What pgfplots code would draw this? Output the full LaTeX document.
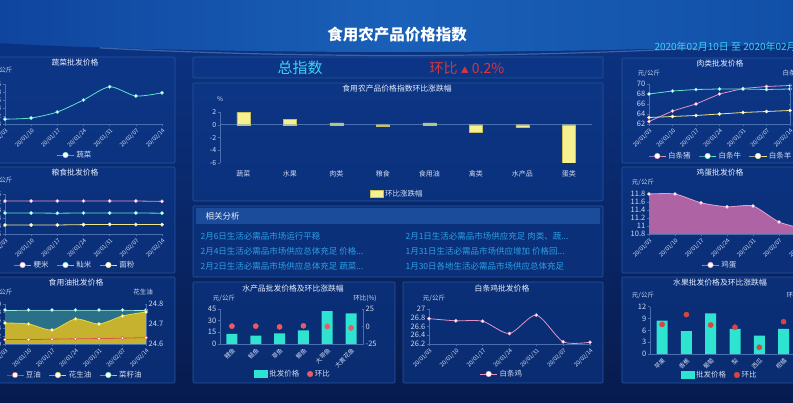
\documentclass[border=0pt]{standalone}
\usepackage{fontspec}
\setmainfont{Noto Sans CJK SC}
\usepackage{pgfplots}
\pgfplotsset{compat=1.18}

\definecolor{bgtop}{HTML}{0C3587}
\definecolor{bgbot}{HTML}{071B4E}
\definecolor{hdrL}{HTML}{0F459E}
\definecolor{hdrM}{HTML}{1A60B8}
\definecolor{hdrR}{HTML}{1250A8}
\definecolor{pfill}{HTML}{0D3A8C}
\definecolor{pbord}{HTML}{25569F}
\definecolor{axc}{HTML}{4A6FB0}
\definecolor{tkc}{HTML}{D0DAF2}
\definecolor{ttl}{HTML}{E8EEFF}
\definecolor{cyanT}{HTML}{3CD3F5}
\definecolor{linkc}{HTML}{2C9FE6}
\definecolor{mint}{HTML}{5FE3CF}
\definecolor{pinkL}{HTML}{E592C4}
\definecolor{yelL}{HTML}{EFE68A}
\definecolor{barY}{HTML}{F6F18E}
\definecolor{barYd}{HTML}{C9BF5A}
\definecolor{barC}{HTML}{2EE3CF}
\definecolor{dotR}{HTML}{D9443F}
\definecolor{dotP}{HTML}{E85A68}
\definecolor{eggF}{HTML}{AE64A4}
\definecolor{eggL}{HTML}{E8A0D0}
\definecolor{oilT}{HTML}{2A7088}
\definecolor{oilY}{HTML}{C6B22E}
\definecolor{oilYL}{HTML}{E8D83A}
\definecolor{redL}{HTML}{E0504A}
\definecolor{hbar}{HTML}{1B4C9B}
\definecolor{redT}{HTML}{D9353F}

\pgfplotsset{
  db/.style={
    scale only axis, anchor=south west,
    axis x line*=bottom, axis y line*=left,
    tick style={draw=axc, line width=0.4pt},
    tick align=outside, major tick length=2pt,
    tick label style={font=\fontsize{6.5}{7}\selectfont, text=tkc},
    yticklabel style={inner sep=1.5pt},
    /pgf/number format/assume math mode=true,
    legend style={draw=none, fill=none, text=tkc, font=\fontsize{7.5}{8}\selectfont,
      legend columns=-1, /tikz/every even column/.append style={column sep=6pt}, anchor=center},
    legend cell align=left,
    legend image post style={mark size=2.8pt},
  },
  fin/.style={axis line style={draw=axc, line width=0.5pt, -}},
  datex/.style={xmin=0, xmax=6, xtick={0,1,2,3,4,5,6},
    xticklabels={20/01/03,20/01/10,20/01/17,20/01/24,20/01/31,20/02/07,20/02/14},
    xticklabel style={rotate=45, anchor=north east, font=\fontsize{5.8}{6}\selectfont, inner sep=1pt}},
  lm/.style={mark=*, mark size=1.7pt, mark options={fill=white, draw=#1, line width=0.4pt, solid}},
  catx/.style={xtick style={draw=none}, xticklabel style={rotate=45, anchor=north east, font=\fontsize{6}{6}\selectfont, inner sep=1pt}},
  ybleg/.style={legend image code/.code={\draw[##1] (0pt,-3.5pt) rectangle (13pt,3.5pt);}},
}

\begin{document}
\begin{tikzpicture}[x=1pt,y=1pt]
\useasboundingbox (0,0) rectangle (793,403);
\clip (0,0) rectangle (793,403);
% background
\shade[top color=bgtop, bottom color=bgbot] (0,0) rectangle (793,403);
\shade[left color=hdrL, right color=hdrR, middle color=hdrM] (0,403) -- (793,403) -- (793,360) .. controls (600,348) and (200,348) .. (0,360) -- cycle;
\draw[hdrM!60!white, opacity=0.45, line width=1.2pt] (100,355) .. controls (300,345) and (500,345) .. (700,355);

% panels
\foreach \a/\b/\c/\d in {-5/57/175/163, -5/167/175/273, -5/277/175/383, 622/58/800/163, 622/167/800/273, 622/277/800/383, 193/57/603/78, 193/83/603/201, 193/206/603/277, 193/282/395/383, 403/282/603/383}{
  \draw[pbord, line width=0.6pt, fill=pfill, fill opacity=0.55, rounded corners=1pt] (\a,403-\d) rectangle (\c,403-\b);
}

% title + date
\node[text=white, font=\bfseries\fontsize{15.5}{15.5}\selectfont] at (397,403-35) {食用农产品价格指数};
\node[text=cyanT, anchor=west, font=\fontsize{10}{10}\selectfont] at (651,403-47) {2020年02月10日 至 2020年02月14日};

% ===== Panel 1: vegetables =====
\begin{axis}[db, datex, at={(5pt,279pt)}, width=157pt, height=40pt, ymin=4, ymax=5,
  ytick={4,4.2,4.4,4.6,4.8,5}, legend style={at={(0.446,-0.775)}}, fin]
\addplot[mint, line width=0.8pt, smooth, tension=0.45, lm=mint] coordinates {(0,4.12)(1,4.15)(2,4.3)(3,4.6)(4,4.93)(5,4.7)(6,4.78)};
\addlegendentry{蔬菜}
\end{axis}
\node[text=ttl, font=\fontsize{7.8}{8}\selectfont] at (75,403-63) {蔬菜批发价格};
\node[text=tkc, anchor=east, font=\fontsize{6.5}{7}\selectfont] at (16,403-70) {元/公斤};

% ===== Panel 2: grain =====
\begin{axis}[db, datex, at={(5pt,169pt)}, width=157pt, height=40pt, ymin=3.6, ymax=5.6,
  ytick={3.6,4,4.4,4.8,5.2,5.6}, legend style={at={(0.446,-0.775)}}, fin]
\addplot[pinkL, line width=0.8pt, lm=pinkL] coordinates {(0,5.25)(1,5.25)(2,5.25)(3,5.25)(4,5.25)(5,5.25)(6,5.23)};
\addlegendentry{粳米}
\addplot[mint, line width=0.8pt, lm=mint] coordinates {(0,4.65)(1,4.65)(2,4.64)(3,4.65)(4,4.65)(5,4.65)(6,4.64)};
\addlegendentry{籼米}
\addplot[yelL, line width=0.8pt, lm=yelL] coordinates {(0,4.05)(1,4.05)(2,4.05)(3,4.07)(4,4.08)(5,4.07)(6,4.07)};
\addlegendentry{面粉}
\end{axis}
\node[text=ttl, font=\fontsize{7.8}{8}\selectfont] at (75,403-173) {粮食批发价格};
\node[text=tkc, anchor=east, font=\fontsize{6.5}{7}\selectfont] at (16,403-180) {元/公斤};

% ===== Panel 3: oil =====
\begin{axis}[db, datex, at={(5pt,59pt)}, width=141pt, height=40pt, ymin=10, ymax=20,
  ytick={10,12,14,16,18,20}, fin]
\addplot[draw=none, fill=oilT] coordinates {(0,18.5)(1,18.5)(2,18.5)(3,18.5)(4,18.5)(5,18.5)(6,18.5)} \closedcycle;
\addplot[mint!60!white, line width=0.6pt, lm=mint] coordinates {(0,18.5)(1,18.5)(2,18.5)(3,18.5)(4,18.5)(5,18.5)(6,18.5)};
\end{axis}
\begin{axis}[db, at={(5pt,59pt)}, width=141pt, height=40pt, xmin=0, xmax=6, xtick=\empty,
  axis x line=none, axis y line=right, ymin=24.6, ymax=24.8, ytick={24.6,24.7,24.8},
  yticklabel style={font=\fontsize{7.5}{8}\selectfont}, fin]
\addplot[draw=none, fill=oilY, smooth, tension=0.45] coordinates {(0,24.705)(1,24.70)(2,24.67)(3,24.725)(4,24.70)(5,24.74)(6,24.76)} \closedcycle;
\addplot[oilYL, line width=0.8pt, smooth, tension=0.45, lm=oilYL] coordinates {(0,24.705)(1,24.70)(2,24.67)(3,24.725)(4,24.70)(5,24.74)(6,24.76)};
\end{axis}
\begin{axis}[db, at={(5pt,59pt)}, width=141pt, height=40pt, xmin=0, xmax=6, ymin=10, ymax=20,
  axis lines=none, xtick=\empty, ytick=\empty, legend style={at={(0.496,-0.775)}}]
\addplot[redL, line width=0.8pt, lm=redL] coordinates {(0,11.1)(1,11.1)(2,11.2)(3,11.3)(4,11.35)(5,11.45)(6,11.6)};
\addlegendentry{豆油}
\addlegendimage{oilYL, line width=0.8pt, lm=oilYL}
\addlegendentry{花生油}
\addlegendimage{mint, line width=0.8pt, lm=mint}
\addlegendentry{菜籽油}
\end{axis}
\node[text=ttl, font=\fontsize{7.8}{8}\selectfont] at (76,403-283) {食用油批发价格};
\node[text=tkc, anchor=east, font=\fontsize{6.5}{7}\selectfont] at (16,403-292) {元/公斤};
\node[text=tkc, font=\fontsize{6.5}{7}\selectfont] at (143,403-292) {花生油};

% ===== Middle top =====
\node[text=cyanT, font=\fontsize{15}{15}\selectfont] at (300,403-68) {总指数};
\node[text=redT, font=\fontsize{14}{14}\selectfont] at (467,403-68) {环比 {\fontsize{8}{8}\selectfont ▲} 0.2\%};

% ===== Middle chart =====
\begin{axis}[db, at={(220pt,240pt)}, width=372pt, height=51pt, xmin=-0.5, xmax=7.5, ymin=-6, ymax=2,
  ybar, bar width=13pt,
  xtick={0,1,2,3,4,5,6,7},
  xticklabels={蔬菜,水果,肉类,粮食,食用油,禽类,水产品,蛋类},
  xtick style={draw=none}, xticklabel style={font=\fontsize{7}{7}\selectfont, yshift=-2pt},
  ytick={-6,-4,-2,2}, extra y ticks={0},
  extra y tick style={grid=major, major grid style={draw=axc, line width=0.5pt}},
  yticklabel style={font=\fontsize{7}{7}\selectfont},
  legend style={at={(0.476,-0.61)}}, fin, x axis line style={draw=none}]
\addplot[fill=barY, draw=barYd, line width=0.4pt, ybleg]
  coordinates {(0,1.9)(1,0.8)(2,0.3)(3,-0.3)(4,0.3)(5,-1.2)(6,-0.4)(7,-6)};
\addlegendentry{环比涨跌幅}
\end{axis}
\node[text=ttl, font=\fontsize{7.8}{8}\selectfont] at (397,403-89) {食用农产品价格指数环比涨跌幅};
\node[text=tkc, font=\fontsize{6.5}{7}\selectfont] at (220,403-99) {\%};

% ===== Analysis =====
\fill[hbar] (196,403-224) rectangle (600,403-208);
\node[text=ttl, anchor=west, font=\fontsize{8.5}{9}\selectfont] at (202,403-216) {相关分析};
\begin{scope}[every node/.style={text=linkc, anchor=west, font=\fontsize{8.5}{9}\selectfont}]
\node at (197,403-236) {2月6日生活必需品市场运行平稳};
\node at (197,403-251) {2月4日生活必需品市场供应总体充足 价格...};
\node at (197,403-266) {2月2日生活必需品市场供应总体充足 蔬菜...};
\node at (402,403-236) {2月1日生活必需品市场供应充足 肉类、蔬...};
\node at (402,403-251) {1月31日生活必需品市场供应增加 价格回...};
\node at (402,403-266) {1月30日各地生活必需品市场供应总体充足};
\end{scope}

% ===== Aquatic =====
\begin{axis}[db, catx, at={(220pt,59pt)}, width=143pt, height=35pt, xmin=-0.5, xmax=5.5, ymin=0, ymax=45,
  ytick={0,15,30,45}, xtick={0,1,2,3,4,5}, xticklabels={鲤鱼,鲢鱼,草鱼,鲫鱼,大带鱼,大黄花鱼},
  yticklabel style={font=\fontsize{7.5}{8}\selectfont}, ybar, bar width=11pt, fin]
\addplot[fill=barC, draw=none] coordinates {(0,12.9)(1,10.7)(2,13.7)(3,17.6)(4,42.4)(5,39.5)};
\end{axis}
\begin{axis}[db, at={(220pt,59pt)}, width=143pt, height=35pt, xmin=-0.5, xmax=5.5, ymin=-25, ymax=25,
  axis x line=none, axis y line=right, xtick=\empty, ytick={-25,0,25},
  yticklabel style={font=\fontsize{7.5}{8}\selectfont}, legend style={at={(0.51,-0.857)}}, fin]
\addlegendimage{legend image code/.code={\fill[barC] (0pt,-3.5pt) rectangle (13pt,3.5pt);}}
\addlegendentry{批发价格}
\addplot[only marks, mark=*, mark size=2.6pt, color=dotP] coordinates {(0,0.5)(1,0.5)(2,-0.5)(3,1)(4,0)(5,-2)};
\addlegendentry{环比}
\end{axis}
\node[text=ttl, font=\fontsize{7.8}{8}\selectfont] at (293,403-289) {水产品批发价格及环比涨跌幅};
\node[text=tkc, font=\fontsize{6.5}{7}\selectfont] at (224,403-298) {元/公斤};
\node[text=tkc, font=\fontsize{6.5}{7}\selectfont] at (365,403-298) {环比(\%)};

% ===== Chicken =====
\begin{axis}[db, datex, at={(429pt,59pt)}, width=161pt, height=35pt, ymin=26.2, ymax=27,
  ytick={26.2,26.4,26.6,26.8,27}, yticklabel style={font=\fontsize{7.5}{8}\selectfont},
  legend style={at={(0.453,-0.857)}}, fin]
\addplot[pinkL, line width=0.8pt, smooth, tension=0.45, lm=pinkL] coordinates {(0,26.78)(1,26.73)(2,26.72)(3,26.44)(4,26.86)(5,26.25)(6,26.24)};
\addlegendentry{白条鸡}
\end{axis}
\node[text=ttl, font=\fontsize{7.8}{8}\selectfont] at (502,403-289) {白条鸡批发价格};
\node[text=tkc, font=\fontsize{6.5}{7}\selectfont] at (434,403-298) {元/公斤};

% ===== Meat =====
\begin{axis}[db, datex, at={(649pt,279pt)}, width=141pt, height=40pt, ymin=62, ymax=70,
  ytick={62,64,66,68,70}, yticklabel style={font=\fontsize{7.5}{8}\selectfont}, fin]
\addplot[pinkL, line width=0.8pt, lm=pinkL] coordinates {(0,62.5)(1,64.6)(2,66)(3,68)(4,69.1)(5,69.5)(6,69.7)};
\addplot[mint, line width=0.8pt, lm=mint] coordinates {(0,68)(1,68.6)(2,68.9)(3,69.0)(4,69.0)(5,68.9)(6,69.0)};
\end{axis}
\begin{axis}[db, at={(649pt,279pt)}, width=141pt, height=40pt, xmin=0, xmax=6, ymin=62, ymax=70,
  axis x line=none, axis y line=right, xtick=\empty, ytick={62,64,66,68,70},
  legend style={at={(0.51,-0.8)}}, fin]
\addlegendimage{pinkL, line width=0.8pt, lm=pinkL}
\addlegendentry{白条猪}
\addlegendimage{mint, line width=0.8pt, lm=mint}
\addlegendentry{白条牛}
\addplot[yelL, line width=0.8pt, lm=yelL] coordinates {(0,63.3)(1,63.5)(2,63.7)(3,64)(4,64.3)(5,64.5)(6,64.7)};
\addlegendentry{白条羊}
\end{axis}
\node[text=ttl, font=\fontsize{7.8}{8}\selectfont] at (720,403-64) {肉类批发价格};
\node[text=tkc, font=\fontsize{6.5}{7}\selectfont] at (649,403-73) {元/公斤};
\node[text=tkc, anchor=west, font=\fontsize{6.5}{7}\selectfont] at (779,403-73) {白条羊};

% ===== Egg =====
\begin{axis}[db, datex, at={(649pt,169pt)}, width=156pt, height=40pt, ymin=10.8, ymax=11.8,
  ytick={10.8,11,11.2,11.4,11.6,11.8}, yticklabel style={font=\fontsize{7.5}{8}\selectfont},
  legend style={at={(0.455,-0.775)}}, fin]
\addplot[draw=none, fill=eggF, smooth, tension=0.4, forget plot] coordinates {(0,11.8)(1,11.8)(2,11.58)(3,11.48)(4,11.5)(5,11.1)(6,10.92)} \closedcycle;
\addplot[eggL, line width=0.8pt, smooth, tension=0.4, lm=eggL] coordinates {(0,11.8)(1,11.8)(2,11.58)(3,11.48)(4,11.5)(5,11.1)(6,10.92)};
\addlegendentry{鸡蛋}
\end{axis}
\node[text=ttl, font=\fontsize{7.8}{8}\selectfont] at (720,403-173) {鸡蛋批发价格};
\node[text=tkc, font=\fontsize{6.5}{7}\selectfont] at (643,403-182) {元/公斤};

% ===== Fruit =====
\begin{axis}[db, catx, at={(650pt,49pt)}, width=170pt, height=47.3pt, xmin=-0.5, xmax=6.5, ymin=0, ymax=12,
  ytick={0,3,6,9,12}, xtick={0,1,2,3,4,5,6}, xticklabels={苹果,香蕉,葡萄,梨,西瓜,柑橘,菠萝},
  yticklabel style={font=\fontsize{7.5}{8}\selectfont}, ybar, bar width=11pt, fin]
\addplot[fill=barC, draw=none] coordinates {(0,8.45)(1,5.8)(2,10.3)(3,6.4)(4,4.65)(5,6.4)(6,7.0)};
\end{axis}
\begin{axis}[db, at={(650pt,49pt)}, width=170pt, height=47.3pt, xmin=-0.5, xmax=6.5, ymin=0, ymax=12,
  axis x line=none, axis y line=right, xtick=\empty, ytick={0,3,6,9,12},
  legend style={at={(0.41,-0.444)}}, fin]
\addlegendimage{legend image code/.code={\fill[barC] (0pt,-3.5pt) rectangle (13pt,3.5pt);}}
\addlegendentry{批发价格}
\addplot[only marks, mark=*, mark size=2.6pt, color=dotR] coordinates {(0,7.5)(1,10.0)(2,7.35)(3,6.8)(4,1.7)(5,8.2)(6,6.0)};
\addlegendentry{环比}
\end{axis}
\node[text=ttl, font=\fontsize{7.8}{8}\selectfont] at (720,403-283) {水果批发价格及环比涨跌幅};
\node[text=tkc, font=\fontsize{6.5}{7}\selectfont] at (643,403-295) {元/公斤};
\node[text=tkc, anchor=west, font=\fontsize{6.5}{7}\selectfont] at (783,403-295) {环比(\%)};
\end{tikzpicture}
\end{document}
